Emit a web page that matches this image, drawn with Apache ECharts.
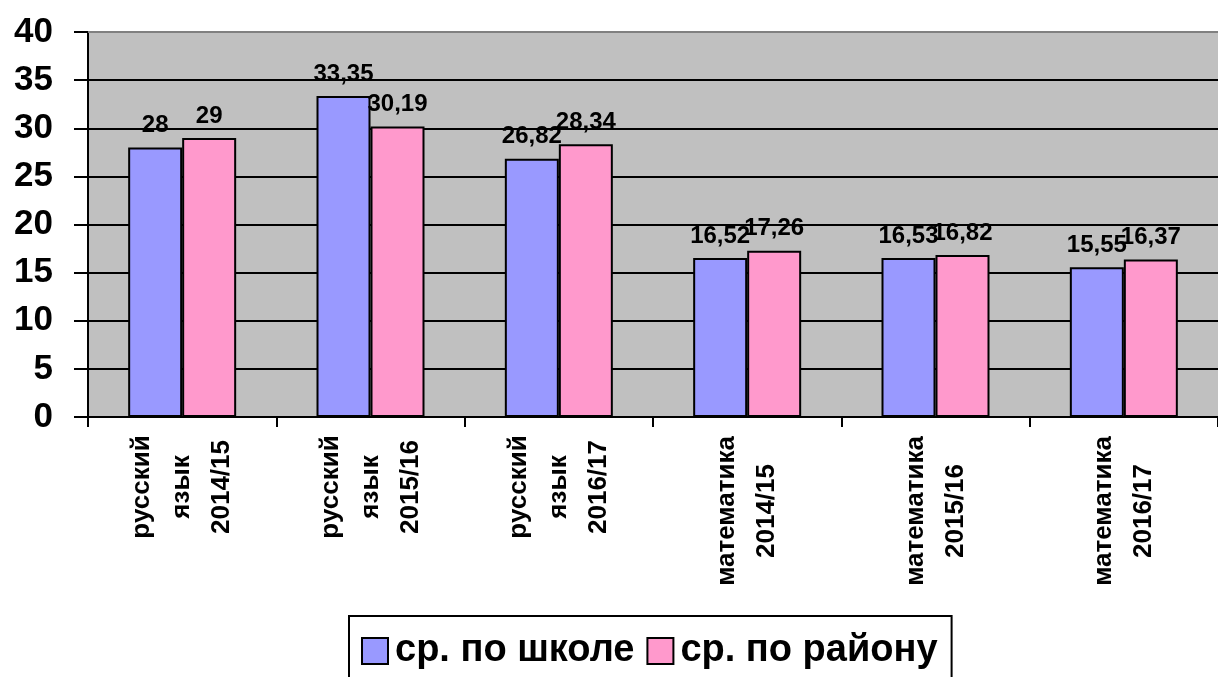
<!DOCTYPE html>
<html><head><meta charset="utf-8">
<script src="https://cdn.jsdelivr.net/npm/echarts@6/dist/echarts.min.js"></script>
<style>html,body{margin:0;padding:0;background:#fff}#c{width:1218px;height:677px}</style>
</head><body><div id="c"></div>
<script>
var subjects = ['русский язык', 'русский язык', 'русский язык', 'математика', 'математика', 'математика'];
var years = ['2014/15', '2015/16', '2016/17', '2014/15', '2015/16', '2016/17'];
var categories = subjects.map(function (s, i) { return s + ' ' + years[i]; });
var schoolAvg = [28, 33.35, 26.82, 16.52, 16.53, 15.55];
var districtAvg = [29, 30.19, 28.34, 17.26, 16.82, 16.37];
var seriesNames = ['ср. по школе', 'ср. по району'];
var yTicks = { min: 0, max: 40, interval: 5 };

var FONT = '"Liberation Sans", Arial, sans-serif';
var W = 'bold';
var chart = echarts.init(document.getElementById('c'));
function fmtNum(v) { return String(v).replace('.', ','); }
chart.setOption({
  animation: false,
  textStyle: { fontFamily: FONT },
  grid: { left: 88, top: 32, right: -10, bottom: 260, show: true, backgroundColor: '#C0C0C0', borderColor: '#808080', borderWidth: 0 },
  legend: {
    data: seriesNames,
    left: 349, top: 616,
    padding: [16, 14, 30, 12],
    itemGap: 12,
    itemWidth: 26, itemHeight: 26,
    icon: 'rect',
    itemStyle: { borderColor: '#000', borderWidth: 2 },
    borderColor: '#000', borderWidth: 2,
    textStyle: { fontSize: 38, fontWeight: W, color: '#000', fontFamily: FONT, padding: [0, 0, 0, 2] }
  },
  xAxis: {
    type: 'category',
    data: categories,
    axisLine: { lineStyle: { color: '#000', width: 2 } },
    axisTick: { show: true, length: 10, lineStyle: { color: '#000', width: 2 } },
    axisLabel: {
      interval: 0, rotate: 90, margin: 18,
      formatter: function (v, i) {
        var s = subjects[i], y = years[i];
        if (s.indexOf(' ') > 0) {
          var p = s.split(' ');
          return '{r|' + p[0] + '}\n{r|' + p[1] + '}\n{r|' + y + '}';
        }
        return '{m|' + s + '}\n{m|' + y + '}';
      },
      rich: {
        r: { width: 104, align: 'center', fontSize: 26, fontWeight: W, color: '#000', lineHeight: 40, fontFamily: FONT },
        m: { width: 152, align: 'center', fontSize: 26, fontWeight: W, color: '#000', lineHeight: 40, fontFamily: FONT }
      }
    }
  },
  yAxis: {
    type: 'value', min: yTicks.min, max: yTicks.max, interval: yTicks.interval,
    axisLine: { show: true, lineStyle: { color: '#000', width: 2 } },
    axisTick: { show: true, length: 14, lineStyle: { color: '#000', width: 2 } },
    axisLabel: { margin: 35, fontSize: 35, fontWeight: W, color: '#000', fontFamily: FONT },
    splitLine: { show: true, lineStyle: { color: '#000', width: 2 } }
  },
  series: [
    {
      name: seriesNames[0], type: 'bar', data: schoolAvg, barWidth: 54, barGap: '0%',
      itemStyle: { color: '#9999FF', borderColor: '#000', borderWidth: 2 },
      label: { show: true, position: 'top', distance: 10, fontSize: 24, fontWeight: W, color: '#000', fontFamily: FONT, formatter: function (p) { return fmtNum(p.value); } }
    },
    {
      name: seriesNames[1], type: 'bar', data: districtAvg, barWidth: 54,
      itemStyle: { color: '#FF99CC', borderColor: '#000', borderWidth: 2 },
      label: { show: true, position: 'top', distance: 10, fontSize: 24, fontWeight: W, color: '#000', fontFamily: FONT, formatter: function (p) { return fmtNum(p.value); } }
    }
  ],
  graphic: [{
    type: 'line', shape: { x1: 88, y1: 32, x2: 1218, y2: 32 }, style: { stroke: '#808080', lineWidth: 2 }, z: 10
  }]
});
</script></body></html>
